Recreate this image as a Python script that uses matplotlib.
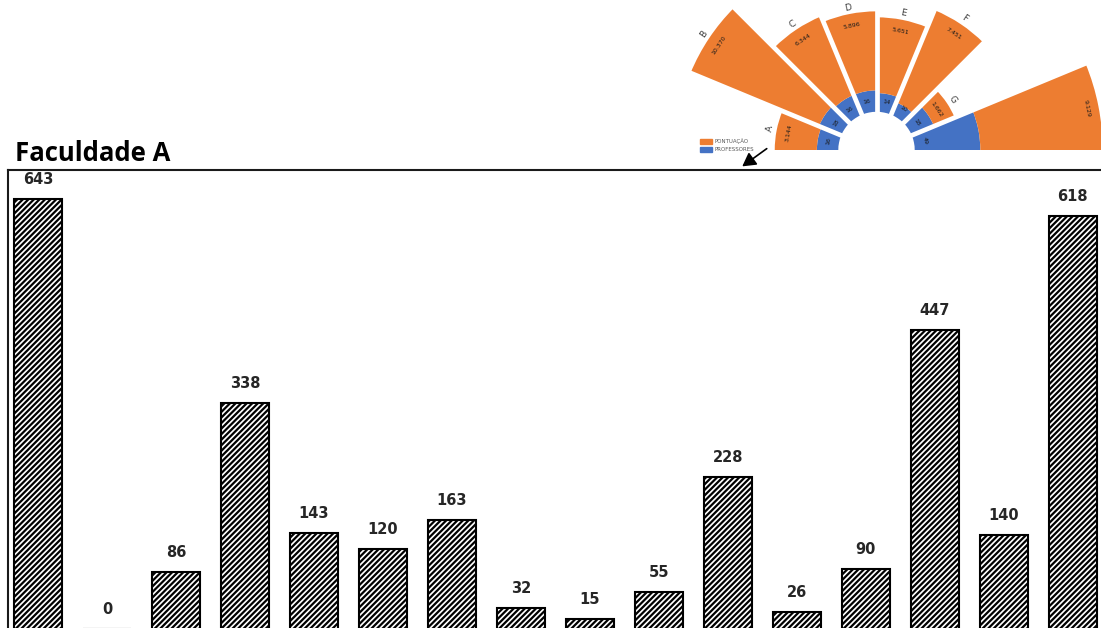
import numpy as np
import matplotlib
matplotlib.use("Agg")
import matplotlib.pyplot as plt
from matplotlib.patches import Wedge, Patch

# ── data ───────────────────────────────────────────────────────────────────────
bar_values = [643, 0, 86, 338, 143, 120, 163, 32, 15, 55, 228, 26, 90, 447, 140, 618]

cursos = ["A", "B", "C", "D", "E", "F", "G", "H"]
professores = [16, 18, 16, 16, 14, 10, 18, 49]
pontuacao = [3144, 10370, 6344, 5896, 5651, 7451, 1662, 9129]

ORANGE = "#ED7D31"
BLUE = "#4472C4"

W, H = 1101, 628
fig = plt.figure(figsize=(W / 100, H / 100), dpi=100)
plt.rcParams["hatch.linewidth"] = 1.6


def px_rect(left, top, right, bottom):
    """figure rect from pixel edges (origin top-left)"""
    return [left / W, 1 - bottom / H, (right - left) / W, (bottom - top) / H]


# ── bar chart ──────────────────────────────────────────────────────────────────
ax = fig.add_axes(px_rect(8, 170, 1106, 640))
x = np.arange(len(bar_values))
ax.bar(x, bar_values, width=0.69, color="white", edgecolor="black",
       hatch="//////", linewidth=1.5)
for xi, v in zip(x, bar_values):
    ax.annotate(str(v), (xi, v), xytext=(0, 14), textcoords="offset points",
                ha="center", va="center", fontsize=10.5, fontweight="bold",
                color="#262626")

ax.set_xlim(-0.435, 15.48)
ax.set_ylim(-16.4, 686.4)
ax.set_xticks([])
ax.set_yticks([])
for s in ax.spines.values():
    s.set_linewidth(1.5)
    s.set_color("#1a1a1a")

fig.text(15 / W, 1 - 161 / H, "Faculdade A", fontsize=18.5, fontweight="bold",
         family=["Open Sans", "DejaVu Sans"], ha="left", va="baseline")

# ── half-polar chart (professores + pontuação) ────────────────────────────────
scale = 1.34          # px per radial unit
cx, cy = 876.5, 150   # centre in px
top_px, bot_px, left_px, right_px = 0, 165, 640, 1101
axp = fig.add_axes(px_rect(left_px, top_px, right_px, bot_px))
axp.set_xlim((left_px - cx) / scale, (right_px - cx) / scale)
axp.set_ylim((cy - bot_px) / scale, (cy - top_px) / scale)
axp.axis("off")

hole = 28.5
step = 180 / len(cursos)
r_max = 0
for i, (c, p, s) in enumerate(zip(cursos, professores, pontuacao)):
    t2 = 180 - i * step
    t1 = 180 - (i + 1) * step
    mid = np.deg2rad(180 - (i + 0.5) * step)
    rot = np.rad2deg(mid) - 90
    r_blue = hole + p
    r_out = r_blue + s / 100
    r_max = max(r_max, r_out)
    axp.add_patch(Wedge((0, 0), r_blue, t1, t2, width=p, color=BLUE, lw=0))
    axp.add_patch(Wedge((0, 0), r_out, t1, t2, width=s / 100, color=ORANGE, lw=0))

    r_txt = hole + 8
    axp.text(r_txt * np.cos(mid), r_txt * np.sin(mid), str(p), fontsize=4.5,
             rotation=rot, ha="center", va="center", color="#1a1a1a")
    r_txt = r_out - 9
    axp.text(r_txt * np.cos(mid), r_txt * np.sin(mid), f"{s:,}".replace(",", "."),
             fontsize=4.5, rotation=rot, ha="center", va="center", color="#1a1a1a")
    r_txt = r_out + 5
    axp.text(r_txt * np.cos(mid), r_txt * np.sin(mid), c, fontsize=6.5,
             rotation=rot, ha="center", va="center", color="#404040")

# white separators of constant width between the sectors
for k in range(1, len(cursos)):
    a = np.deg2rad(k * step)
    axp.plot([0, (r_max + 5) * np.cos(a)], [0, (r_max + 5) * np.sin(a)],
             color="white", lw=3.4, solid_capstyle="butt")

handles = [Patch(color=ORANGE), Patch(color=BLUE)]
fig.legend(handles, ["PONTUAÇÃO", "PROFESSORES"], loc="upper left",
           bbox_to_anchor=(697 / W, 1 - 136 / H), frameon=False, fontsize=4,
           handlelength=2.2, handleheight=1.1, labelspacing=0.45,
           handletextpad=0.5, borderpad=0, labelcolor="#595959")

# arrow from the chart down to the bar panel
fig.add_artist(plt.Annotation("", xy=(740 / W, 1 - 168 / H), xycoords="figure fraction",
                              xytext=(769 / W, 1 - 147 / H), textcoords="figure fraction",
                              arrowprops=dict(arrowstyle="-|>,head_length=0.8,head_width=0.45",
                                              color="black", lw=1.2)))

fig.savefig("out.png", dpi=100)
